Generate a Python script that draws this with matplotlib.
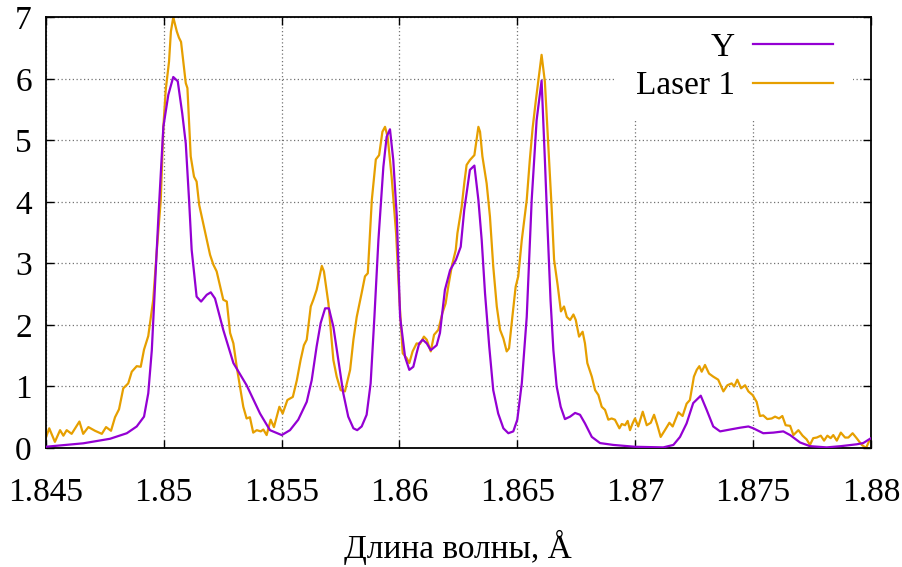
import matplotlib
matplotlib.use("Agg")
import matplotlib.pyplot as plt

# ---- data ----
x_laser = [1.84500, 1.84515, 1.84539, 1.84561, 1.84575, 1.84589, 1.84610, 1.84643, 1.84659, 1.84681,
           1.84709, 1.84738, 1.84756, 1.84777, 1.84794, 1.84811, 1.84829, 1.84850, 1.84865, 1.84886,
           1.84903, 1.84917, 1.84935, 1.84956, 1.84971, 1.84988, 1.84999, 1.85009, 1.85023, 1.85031,
           1.85041, 1.85056, 1.85065, 1.85074, 1.85094, 1.85101, 1.85115, 1.85129, 1.85140, 1.85151,
           1.85197, 1.85211, 1.85225, 1.85253, 1.85268, 1.85282, 1.85296, 1.85310, 1.85324, 1.85338,
           1.85352, 1.85366, 1.85380, 1.85395, 1.85412, 1.85423, 1.85437, 1.85454, 1.85468, 1.85491,
           1.85505, 1.85525, 1.85548, 1.85565, 1.85581, 1.85595, 1.85607, 1.85624, 1.85635, 1.85649,
           1.85671, 1.85680, 1.85699, 1.85720, 1.85734, 1.85751, 1.85769, 1.85791, 1.85805, 1.85819,
           1.85840, 1.85854, 1.85866, 1.85883, 1.85900, 1.85914, 1.85928, 1.85939, 1.85950, 1.85967,
           1.85986, 1.86000, 1.86014, 1.86031, 1.86042, 1.86056, 1.86073, 1.86087, 1.86104, 1.86116,
           1.86133, 1.86147, 1.86165, 1.86182, 1.86196, 1.86207, 1.86222, 1.86239, 1.86246, 1.86264,
           1.86275, 1.86285, 1.86299, 1.86318, 1.86335, 1.86342, 1.86352, 1.86370, 1.86384, 1.86398,
           1.86413, 1.86427, 1.86441, 1.86455, 1.86465, 1.86479, 1.86493, 1.86504, 1.86519, 1.86540,
           1.86553, 1.86565, 1.86579, 1.86603, 1.86617, 1.86635, 1.86645, 1.86656, 1.86671, 1.86685,
           1.86698, 1.86710, 1.86724, 1.86738, 1.86748, 1.86762, 1.86777, 1.86787, 1.86797, 1.86816,
           1.86830, 1.86844, 1.86858, 1.86872, 1.86886, 1.86900, 1.86914, 1.86933, 1.86943, 1.86957,
           1.86968, 1.86978, 1.86989, 1.86999, 1.87013, 1.87032, 1.87049, 1.87066, 1.87080, 1.87094,
           1.87108, 1.87126, 1.87145, 1.87159, 1.87183, 1.87201, 1.87218, 1.87232, 1.87249, 1.87261,
           1.87272, 1.87282, 1.87296, 1.87313, 1.87331, 1.87352, 1.87374, 1.87391, 1.87409, 1.87420,
           1.87433, 1.87449, 1.87466, 1.87480, 1.87498, 1.87515, 1.87529, 1.87543, 1.87560, 1.87579,
           1.87593, 1.87610, 1.87624, 1.87638, 1.87657, 1.87671, 1.87692, 1.87710, 1.87727, 1.87741,
           1.87755, 1.87770, 1.87787, 1.87801, 1.87815, 1.87829, 1.87840, 1.87855, 1.87872, 1.87890,
           1.87904, 1.87922, 1.87939, 1.87961, 1.87979, 1.87993, 1.88000]
y_laser = [0.16, 0.32, 0.10, 0.29, 0.20, 0.29, 0.23, 0.43, 0.23, 0.34,
           0.28, 0.23, 0.34, 0.28, 0.50, 0.63, 0.97, 1.05, 1.24, 1.33,
           1.32, 1.60, 1.82, 2.41, 3.20, 4.03, 5.22, 5.82, 6.28, 6.77,
           7.00, 6.77, 6.67, 6.60, 5.93, 5.85, 4.74, 4.41, 4.33, 3.95,
           3.14, 2.98, 2.87, 2.41, 2.38, 1.87, 1.70, 1.32, 1.00, 0.67,
           0.48, 0.50, 0.25, 0.29, 0.27, 0.30, 0.21, 0.46, 0.34, 0.67,
           0.56, 0.78, 0.83, 1.10, 1.43, 1.67, 1.76, 2.30, 2.41, 2.57,
           2.96, 2.87, 2.35, 1.43, 1.16, 0.94, 0.92, 1.27, 1.76, 2.13,
           2.52, 2.79, 2.84, 4.03, 4.69, 4.76, 5.14, 5.22, 5.06, 4.41,
           3.49, 2.41, 1.54, 1.46, 1.38, 1.57, 1.70, 1.69, 1.81, 1.76,
           1.57, 1.84, 1.92, 2.19, 2.35, 2.62, 2.95, 3.22, 3.49, 3.92,
           4.30, 4.60, 4.68, 4.76, 5.22, 5.14, 4.74, 4.30, 3.76, 2.95,
           2.30, 1.92, 1.78, 1.57, 1.62, 2.13, 2.62, 2.79, 3.38, 4.03,
           4.68, 5.20, 5.66, 6.39, 5.95, 4.68, 3.95, 3.06, 2.65, 2.22,
           2.30, 2.13, 2.08, 2.17, 2.08, 1.81, 1.89, 1.70, 1.38, 1.16,
           0.94, 0.86, 0.67, 0.62, 0.46, 0.48, 0.46, 0.32, 0.39, 0.37,
           0.44, 0.29, 0.40, 0.48, 0.35, 0.59, 0.37, 0.41, 0.54, 0.37,
           0.18, 0.29, 0.41, 0.35, 0.58, 0.52, 0.72, 0.78, 1.16, 1.27,
           1.33, 1.24, 1.35, 1.21, 1.16, 1.11, 0.92, 1.02, 1.05, 1.00,
           1.11, 0.97, 1.02, 0.92, 0.86, 0.75, 0.52, 0.53, 0.47, 0.48,
           0.51, 0.48, 0.52, 0.37, 0.36, 0.21, 0.29, 0.20, 0.14, 0.05,
           0.16, 0.17, 0.20, 0.12, 0.20, 0.16, 0.21, 0.12, 0.25, 0.17,
           0.17, 0.24, 0.16, 0.05, 0.00, 0.12, 0.15]

x_y = [1.84500, 1.84659, 1.84773, 1.84844, 1.84886, 1.84917, 1.84935, 1.84950, 1.84964, 1.84978,
       1.84999, 1.85020, 1.85041, 1.85060, 1.85079, 1.85094, 1.85108, 1.85119, 1.85140, 1.85159,
       1.85183, 1.85200, 1.85218, 1.85253, 1.85296, 1.85352, 1.85409, 1.85451, 1.85501, 1.85536,
       1.85571, 1.85607, 1.85628, 1.85649, 1.85666, 1.85685, 1.85701, 1.85720, 1.85741, 1.85762,
       1.85783, 1.85805, 1.85821, 1.85840, 1.85861, 1.85878, 1.85894, 1.85911, 1.85932, 1.85946,
       1.85960, 1.85974, 1.85989, 1.86003, 1.86024, 1.86042, 1.86059, 1.86073, 1.86084, 1.86099,
       1.86116, 1.86133, 1.86158, 1.86172, 1.86193, 1.86215, 1.86240, 1.86260, 1.86275, 1.86299,
       1.86318, 1.86335, 1.86349, 1.86363, 1.86381, 1.86398, 1.86419, 1.86441, 1.86462, 1.86483,
       1.86500, 1.86519, 1.86540, 1.86561, 1.86582, 1.86603, 1.86617, 1.86628, 1.86641, 1.86653,
       1.86667, 1.86684, 1.86702, 1.86724, 1.86745, 1.86766, 1.86787, 1.86816, 1.86851, 1.86907,
       1.86999, 1.87119, 1.87162, 1.87190, 1.87218, 1.87246, 1.87278, 1.87303, 1.87331, 1.87360,
       1.87402, 1.87445, 1.87480, 1.87501, 1.87543, 1.87586, 1.87628, 1.87657, 1.87699, 1.87741,
       1.87812, 1.87872, 1.87939, 1.87967, 1.88000]
y_y = [0.02, 0.076, 0.15, 0.24, 0.35, 0.51, 0.89, 1.59, 2.68, 3.76,
       5.22, 5.74, 6.03, 5.96, 5.44, 4.95, 4.03, 3.22, 2.46, 2.38,
       2.49, 2.53, 2.43, 1.92, 1.38, 1.02, 0.56, 0.29, 0.21, 0.29,
       0.46, 0.75, 1.10, 1.65, 2.03, 2.27, 2.27, 1.97, 1.43, 0.89,
       0.51, 0.32, 0.29, 0.35, 0.54, 1.05, 2.13, 3.38, 4.57, 5.06,
       5.18, 4.68, 3.76, 2.13, 1.48, 1.27, 1.32, 1.54, 1.70, 1.76,
       1.70, 1.59, 1.67, 1.87, 2.57, 2.89, 3.06, 3.27, 3.87, 4.52,
       4.59, 4.03, 3.38, 2.52, 1.65, 0.94, 0.56, 0.32, 0.24, 0.27,
       0.46, 1.05, 2.13, 4.03, 5.33, 5.97, 4.68, 3.60, 2.40, 1.59,
       1.00, 0.67, 0.47, 0.51, 0.57, 0.54, 0.40, 0.18, 0.08, 0.05,
       0.02, 0.01, 0.05, 0.18, 0.40, 0.73, 0.85, 0.62, 0.35, 0.27,
       0.30, 0.33, 0.35, 0.32, 0.24, 0.25, 0.27, 0.21, 0.09, 0.03,
       0.01, 0.03, 0.06, 0.08, 0.16]

x_ticks = [1.845, 1.85, 1.855, 1.86, 1.865, 1.87, 1.875, 1.88]
x_tick_labels = ["1.845", "1.85", "1.855", "1.86", "1.865", "1.87", "1.875", "1.88"]
y_ticks = [0, 1, 2, 3, 4, 5, 6, 7]
series_labels = ["Y", "Laser 1"]
x_label = "Длина волны, Å"

# ---- style ----
plt.rcParams['font.family'] = ['Liberation Serif', 'DejaVu Serif']
FS = 24
purple = '#9400D3'
orange = '#E69F00'

fig = plt.figure(figsize=(9.03, 5.67), dpi=100)
ax = fig.add_axes([45.7 / 903, 1 - 448 / 567, (871 - 45.7) / 903, (448 - 17.3) / 567])

ax.plot(x_y, y_y, color=purple, lw=1.6, label=series_labels[0], zorder=3)
ax.plot(x_laser, y_laser, color=orange, lw=1.6, label=series_labels[1], zorder=2)

ax.set_xlim(1.845, 1.88)
ax.set_ylim(0, 7)
ax.set_xticks(x_ticks)
ax.set_xticklabels(x_tick_labels)
ax.set_yticks(y_ticks)
ax.grid(True, color='0.45', linestyle=(0, (1, 2)), linewidth=0.9)
ax.set_axisbelow(True)

ax.tick_params(direction='in', length=6, width=1, top=True, right=True,
               labelsize=FS, colors='black')
ax.tick_params(axis='x', pad=21)
ax.tick_params(axis='y', pad=10)
for s in ax.spines.values():
    s.set_linewidth(1.3)

ax.set_xlabel(x_label, fontsize=FS, labelpad=16)

leg = ax.legend(loc='upper right', bbox_to_anchor=(853 / 903, 1 - 12 / 567),
                bbox_transform=fig.transFigure, markerfirst=False, fontsize=FS,
                handlelength=2.4, handletextpad=0.55, labelspacing=0.25,
                borderaxespad=0, borderpad=0.6, frameon=True, fancybox=False)
leg.get_frame().set_facecolor('white')
leg.get_frame().set_edgecolor('none')
leg.get_frame().set_alpha(1)
leg.set_zorder(1.5)

fig.savefig('out.png', dpi=100)
